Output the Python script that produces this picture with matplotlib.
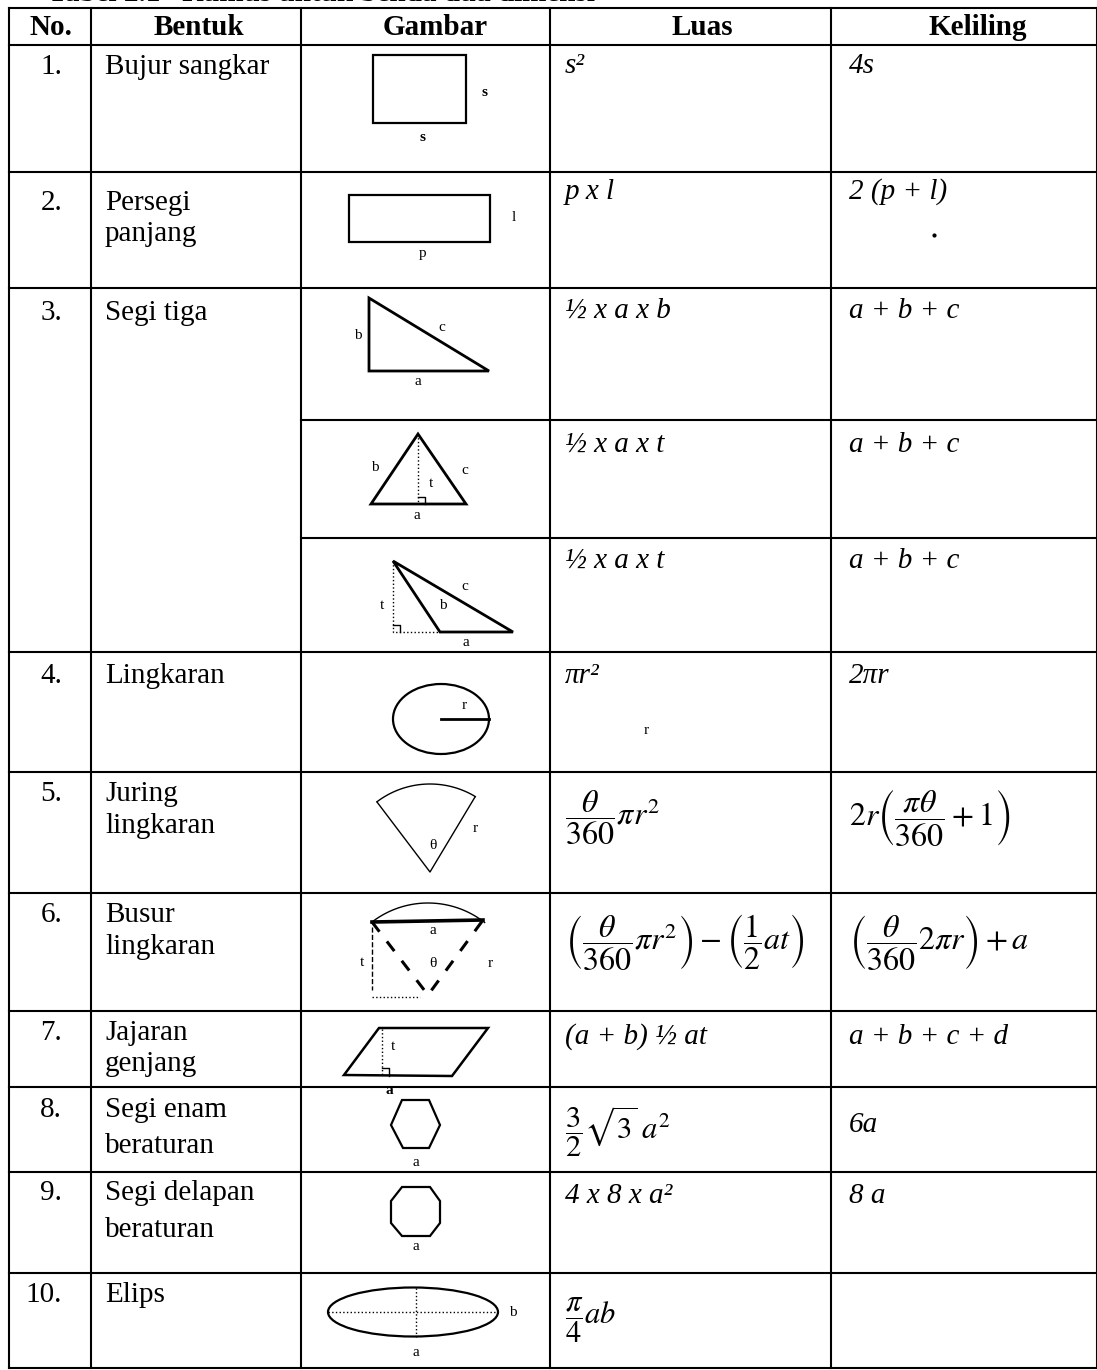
import matplotlib
matplotlib.use('Agg')
import matplotlib.pyplot as plt
from matplotlib.patches import Ellipse, Polygon
import numpy as np

plt.rcParams['font.family'] = ['Liberation Serif', 'DejaVu Serif']
plt.rcParams['mathtext.fontset'] = 'stix'

# table content
header = ['No.', 'Bentuk', 'Gambar', 'Luas', 'Keliling']
nomor = ['1.', '2.', '3.', '4.', '5.', '6.', '7.', '8.', '9.', '10.']
bentuk = [['Bujur sangkar'], ['Persegi', 'panjang'], ['Segi tiga'], ['Lingkaran'],
          ['Juring', 'lingkaran'], ['Busur', 'lingkaran'], ['Jajaran', 'genjang'],
          ['Segi enam', 'beraturan'], ['Segi delapan', 'beraturan'], ['Elips']]
# one entry per cell row (row 3 has three sub rows on the right)
luas = ['s²', 'p x l', '½ x a x b', '½ x a x t', '½ x a x t', 'πr²',
        r'$\dfrac{\theta}{360}\pi r^{2}$',
        r'$\left(\dfrac{\theta}{360}\pi r^{2}\right)-\left(\dfrac{1}{2}at\right)$',
        '(a + b) ½ at', r'$\dfrac{3}{2}\sqrt{3}\;a^{2}$', '4 x 8 x a²',
        r'$\dfrac{\pi}{4}ab$']
keliling = ['4s', '2 (p + l)', 'a + b + c', 'a + b + c', 'a + b + c', '2πr',
            r'$2r\left(\dfrac{\pi\theta}{360}+1\right)$',
            r'$\left(\dfrac{\theta}{360}2\pi r\right)+a$',
            'a + b + c + d', '6a', '8 a', '']

# layout in pixels
col_x = [9, 91, 301, 550, 831, 1097]
row_y = [8, 45, 172, 288, 420, 538, 652, 772, 893, 1011, 1087, 1172, 1273, 1368]
bentuk_base = [74, 210, 320, 683, 801, 922, 1040, 1117, 1200, 1302]
bentuk_gap = [0, 31, 0, 0, 32, 32, 31, 36, 37, 0]
formula_y = [73, 199, 318, 452, 568, 683, 818, 942, 1044, 1132, 1203, 1320]
math_size = [0, 0, 0, 0, 0, 0, 23, 23, 0, 22, 0, 22]

fig = plt.figure(figsize=(10.97, 13.70), dpi=100)
ax = fig.add_axes([0, 0, 1, 1])
ax.set_xlim(0, 1097)
ax.set_ylim(1370, 0)
ax.axis('off')

lw = 1.5
# caption, cut off at the top edge of the scan
ax.text(48, 1, 'Tabel 2.1   Rumus untuk benda dua dimensi', fontsize=21,
        fontweight='bold', va='baseline')

# grid lines
for x in col_x:
    ax.plot([x, x], [row_y[0], row_y[-1]], color='black', lw=lw)
for i, y in enumerate(row_y):
    x0 = col_x[2] if i in (4, 5) else col_x[0]
    ax.plot([x0, 1100], [y, y], color='black', lw=lw)

# header
header_x = [51, 199, 435, 702, 978]
for hx, h in zip(header_x, header):
    ax.text(hx, 27, h, fontsize=21, fontweight='bold', ha='center', va='center')

# number + name columns
for i in range(10):
    ax.text(62, bentuk_base[i], nomor[i], fontsize=21, ha='right', va='baseline')
    for j, line in enumerate(bentuk[i]):
        ax.text(105, bentuk_base[i] + j * bentuk_gap[i], line, fontsize=21,
                va='baseline')

# formulas
for i in range(len(luas)):
    for txt, x in ((luas[i], 565), (keliling[i], 849)):
        if not txt:
            continue
        if txt.startswith('$'):
            ax.text(x, formula_y[i], txt, fontsize=math_size[i], va='center')
        else:
            ax.text(x, formula_y[i], txt, fontsize=21, style='italic',
                    va='baseline')

# stray marks from the scan
ax.plot([934], [235], marker='.', color='black', ms=4)
ax.text(646, 730, 'r', fontsize=11, ha='center', va='center')

# drawings
dot = dict(color='black', lw=1.0, ls=':')
small = dict(fontsize=11, ha='center', va='center')


def poly(pts, **kw):
    ax.add_patch(Polygon(pts, closed=True, fill=False, **kw))


# 1 square
poly([(373, 55), (466, 55), (466, 123), (373, 123)], ec='black', lw=1.6)
ax.text(484, 92, 's', fontweight='bold', **small)
ax.text(423, 137, 's', fontweight='bold', **small)
# 2 rectangle
poly([(349, 195), (490, 195), (490, 242), (349, 242)], ec='black', lw=1.6)
ax.text(514, 217, 'l', **small)
ax.text(423, 253, 'p', **small)
# 3 right triangle
poly([(369, 298), (369, 371), (489, 371)], ec='black', lw=2.0)
ax.text(358, 335, 'b', **small)
ax.text(442, 327, 'c', **small)
ax.text(418, 381, 'a', **small)
# 3 isosceles
poly([(418, 434), (371, 504), (466, 504)], ec='black', lw=2.0)
ax.plot([418, 418], [434, 504], **dot)
ax.plot([418, 425, 425], [497, 497, 504], color='black', lw=1.0)
ax.text(375, 467, 'b', **small)
ax.text(465, 470, 'c', **small)
ax.text(431, 483, 't', **small)
ax.text(417, 515, 'a', **small)
# 3 obtuse
poly([(393, 561), (440, 632), (513, 632)], ec='black', lw=2.0)
ax.plot([393, 393, 440], [561, 632, 632], **dot)
ax.plot([393, 400, 400], [625, 625, 632], color='black', lw=1.0)
ax.text(382, 605, 't', **small)
ax.text(443, 605, 'b', **small)
ax.text(465, 586, 'c', **small)
ax.text(466, 642, 'a', **small)
# 4 circle
ax.add_patch(Ellipse((441, 719), 96, 70, fill=False, ec='black', lw=1.6))
ax.plot([441, 489], [719, 719], color='black', lw=2.0)
ax.text(464, 705, 'r', **small)
# 5 sector
t = np.radians(np.linspace(59, 127, 40))
ax.plot(430 + 88 * np.cos(t), 872 - 88 * np.sin(t), color='black', lw=1.0)
ax.plot([377, 430, 475], [802, 872, 797], color='black', lw=1.0)
ax.text(433, 845, 'θ', **small)
ax.text(475, 828, 'r', **small)
# 6 segment
t = np.radians(np.linspace(52, 128, 40))
ax.plot(428 + 92 * np.cos(t), 995 - 92 * np.sin(t), color='black', lw=1.0)
ax.plot([372, 483], [922, 920], color='black', lw=2.6)
ax.plot([372, 428, 483], [922, 995, 920], color='black', lw=2.2, ls=(0, (4, 4)))
ax.plot([372, 372], [927, 990], color='black', lw=1.0, ls='--')
ax.plot([372, 420], [997, 997], **dot)
ax.text(433, 930, 'a', **small)
ax.text(433, 963, 'θ', **small)
ax.text(490, 963, 'r', **small)
ax.text(362, 962, 't', **small)
# 7 parallelogram
poly([(344, 1075), (452, 1076), (488, 1028), (379, 1028)], ec='black', lw=1.8)
ax.plot([382, 382], [1029, 1076], **dot)
ax.plot([382, 389, 389], [1068, 1068, 1076], color='black', lw=1.0)
ax.text(393, 1047, 't', **small)
ax.text(389, 1090, 'a', fontweight='bold', **small)
# 8 hexagon
poly([(402, 1100), (429, 1100), (440, 1125), (429, 1148), (403, 1148), (391, 1125)],
     ec='black', lw=1.6)
ax.text(416, 1162, 'a', **small)
# 9 octagon
poly([(402, 1187), (430, 1187), (440, 1201), (440, 1223), (430, 1236), (402, 1236),
      (391, 1223), (391, 1201)], ec='black', lw=1.6)
ax.text(416, 1247, 'a', **small)
# 10 ellipse
ax.add_patch(Ellipse((413, 1312), 170, 49, fill=False, ec='black', lw=1.6))
ax.plot([328, 498], [1312, 1312], **dot)
ax.plot([416, 416], [1288, 1337], **dot)
ax.text(513, 1313, 'b', **small)
ax.text(416, 1352, 'a', **small)

fig.savefig('out.png', dpi=100, facecolor='white')
